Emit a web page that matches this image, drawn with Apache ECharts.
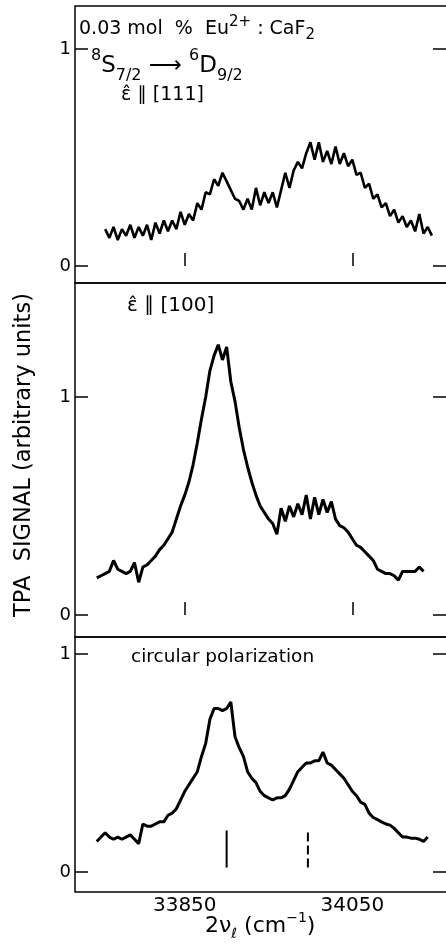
<!DOCTYPE html>
<html>
<head>
<meta charset="utf-8">
<script src="https://cdn.jsdelivr.net/npm/echarts@6/dist/echarts.min.js"></script>
<style>
  html, body { margin: 0; padding: 0; background: #fff; }
  #chart { width: 446px; height: 947px; }
</style>
</head>
<body>
<div id="chart"></div>
<script>
// wavenumber grid (2 nu_l, cm-1) shared by the three traces
const wavenumber = [33745,33750,33755,33760,33765,33770,33775,33780,33785,33790,
  33795,33800,33805,33810,33815,33820,33825,33830,33835,33840,
  33845,33850,33855,33860,33865,33870,33875,33880,33885,33890,
  33895,33900,33905,33910,33915,33920,33925,33930,33935,33940,
  33945,33950,33955,33960,33965,33970,33975,33980,33985,33990,
  33995,34000,34005,34010,34015,34020,34025,34030,34035,34040,
  34045,34050,34055,34060,34065,34070,34075,34080,34085,34090,
  34095,34100,34105,34110,34115,34120,34125,34130,34135,34140,
  34145,34150];

// e || [111]
const signal111 = [null,null,0.17,0.13,0.18,0.12,0.17,0.14,0.19,0.13,
  0.18,0.14,0.19,0.12,0.20,0.15,0.21,0.16,0.21,0.17,
  0.25,0.19,0.24,0.21,0.29,0.26,0.34,0.33,0.40,0.37,
  0.43,0.39,0.35,0.31,0.30,0.26,0.31,0.26,0.36,0.28,
  0.34,0.29,0.34,0.27,0.35,0.43,0.36,0.44,0.48,0.45,
  0.52,0.57,0.49,0.57,0.48,0.53,0.47,0.55,0.47,0.52,
  0.46,0.49,0.42,0.43,0.36,0.38,0.31,0.33,0.27,0.29,
  0.23,0.26,0.20,0.23,0.18,0.21,0.16,0.24,0.15,0.18,
  0.14,null];

// e || [100]
const signal100 = [0.17,0.18,0.19,0.20,0.25,0.21,0.20,0.19,0.20,0.24,
  0.15,0.22,0.23,0.25,0.27,0.30,0.32,0.35,0.38,0.44,
  0.50,0.55,0.61,0.69,0.79,0.90,1.00,1.12,1.19,1.24,
  1.17,1.23,1.07,0.98,0.86,0.76,0.68,0.61,0.55,0.50,
  0.47,0.44,0.42,0.37,0.49,0.43,0.50,0.45,0.51,0.46,
  0.55,0.44,0.54,0.46,0.53,0.47,0.52,0.44,0.41,0.40,
  0.38,0.35,0.32,0.31,0.29,0.27,0.25,0.21,0.20,0.19,
  0.19,0.18,0.16,0.20,0.20,0.20,0.20,0.22,0.20,null,
  null,null];

// circular polarization
const signalCirc = [0.14,0.16,0.18,0.16,0.15,0.16,0.15,0.16,0.17,0.15,
  0.13,0.22,0.21,0.21,0.22,0.23,0.23,0.26,0.27,0.29,
  0.33,0.37,0.40,0.43,0.46,0.53,0.59,0.70,0.75,0.75,
  0.74,0.75,0.78,0.62,0.57,0.53,0.46,0.43,0.41,0.37,
  0.35,0.34,0.33,0.34,0.34,0.35,0.38,0.42,0.46,0.48,
  0.50,0.50,0.51,0.51,0.55,0.50,0.49,0.47,0.45,0.43,
  0.40,0.37,0.35,0.32,0.31,0.27,0.25,0.24,0.23,0.22,
  0.215,0.20,0.18,0.16,0.16,0.155,0.155,0.15,0.14,0.16,
  null,null];

// calculated line positions marked under the circular trace
const solidMarker = [33900];
const dashedMarker = [33997];
const markerRange = [0.02, 0.19];

const xTicks = [33850, 34050];
const yTicks = [0, 1];

const font = 'DejaVu Sans';
const zip = (ys) => wavenumber.map((x, i) => [x, ys[i]]);

const myChart = echarts.init(document.getElementById('chart'));

// right border sits just past the window edge, as in the scan
const grids = [
  { left: 75, top: 6, width: 377, height: 277 },
  { left: 75, top: 283, width: 377, height: 354 },
  { left: 75, top: 637, width: 377, height: 255 }
];
const yRanges = [[-0.078, 1.198], [-0.101, 1.523], [-0.092, 1.078]];

const xAxes = grids.map((g, i) => ({
  type: 'value',
  gridIndex: i,
  min: 33719,
  max: 34169,
  axisLine: { show: false },
  splitLine: { show: false },
  axisTick: {
    show: i < 2,
    inside: true,
    length: 13,
    customValues: xTicks,
    lineStyle: { color: '#000', width: 1.5 }
  },
  axisLabel: {
    show: i === 2,
    customValues: xTicks,
    formatter: v => String(v),
    color: '#000',
    fontFamily: font,
    fontSize: 20,
    margin: 4
  }
}));

const yAxes = [];
grids.forEach((g, i) => {
  ['left', 'right'].forEach(pos => {
    yAxes.push({
      type: 'value',
      gridIndex: i,
      position: pos,
      min: yRanges[i][0],
      max: yRanges[i][1],
      axisLine: { show: false },
      splitLine: { show: false },
      axisTick: {
        show: true,
        inside: true,
        length: pos === 'left' ? 13 : 19,
        customValues: yTicks,
        lineStyle: { color: '#000', width: 1.5 }
      },
      axisLabel: {
        show: pos === 'left',
        customValues: yTicks,
        color: '#000',
        fontFamily: font,
        fontSize: 18,
        margin: 4
      }
    });
  });
});

myChart.setOption({
  animation: false,
  backgroundColor: '#fff',
  grid: grids.map(g => ({
    ...g,
    outerBoundsMode: 'none',
    containLabel: false,
    show: true,
    borderColor: '#000',
    borderWidth: 1.5,
    backgroundColor: 'transparent'
  })),
  xAxis: xAxes,
  yAxis: yAxes,
  series: [
    {
      type: 'line', xAxisIndex: 0, yAxisIndex: 0, showSymbol: false,
      lineStyle: { color: '#000', width: 2.6 }, data: zip(signal111)
    },
    {
      type: 'line', xAxisIndex: 1, yAxisIndex: 2, showSymbol: false,
      lineStyle: { color: '#000', width: 3 }, data: zip(signal100)
    },
    {
      type: 'line', xAxisIndex: 2, yAxisIndex: 4, showSymbol: false,
      lineStyle: { color: '#000', width: 3 }, data: zip(signalCirc)
    },
    {
      type: 'line', xAxisIndex: 2, yAxisIndex: 4, showSymbol: false,
      lineStyle: { color: '#000', width: 2 },
      data: markerRange.map(v => [solidMarker[0], v])
    },
    {
      type: 'line', xAxisIndex: 2, yAxisIndex: 4, showSymbol: false,
      lineStyle: { color: '#000', width: 2, type: [9, 4] },
      data: markerRange.map(v => [dashedMarker[0], v])
    }
  ],
  graphic: [
    {
      type: 'text', left: 79, top: 15,
      style: {
        text: '0.03 mol  %  Eu{sup|2+} : CaF{sub|2}',
        fontFamily: font, fontSize: 19, lineHeight: 28, fill: '#000',
        rich: {
          sup: { fontFamily: font, fontSize: 15, lineHeight: 12, verticalAlign: 'top' },
          sub: { fontFamily: font, fontSize: 15, lineHeight: 12, verticalAlign: 'bottom' }
        }
      }
    },
    {
      type: 'text', left: 91, top: 48,
      style: {
        text: '{sup|8}S{sub|7/2} \u27f6 {sup|6}D{sub|9/2}',
        fontFamily: font, fontSize: 23, lineHeight: 36, fill: '#000',
        rich: {
          sup: { fontFamily: font, fontSize: 16, lineHeight: 16, verticalAlign: 'top' },
          sub: { fontFamily: font, fontSize: 16, lineHeight: 16, verticalAlign: 'bottom' }
        }
      }
    },
    {
      type: 'text', left: 121, top: 86,
      style: { text: '\u03b5\u0302 \u2225 [111]', fontFamily: font, fontSize: 19, fill: '#000' }
    },
    {
      type: 'text', left: 127, top: 296,
      style: { text: '\u03b5\u0302 \u2225 [100]', fontFamily: font, fontSize: 20, fill: '#000' }
    },
    {
      type: 'text', left: 131, top: 648,
      style: { text: 'circular polarization', fontFamily: font, fontSize: 18.5, fill: '#000' }
    },
    {
      type: 'text', x: 24, y: 455, rotation: Math.PI / 2,
      style: {
        text: 'TPA  SIGNAL (arbitrary units)',
        fontFamily: font, fontSize: 22.5, fill: '#000',
        align: 'center', verticalAlign: 'middle'
      }
    },
    {
      type: 'text', left: 205, top: 911,
      style: {
        text: '2\u03bd{sub|\u2113} (cm{sup|\u22121})',
        fontFamily: font, fontSize: 22, lineHeight: 30, fill: '#000',
        rich: {
          sup: { fontFamily: font, fontSize: 14, lineHeight: 12, verticalAlign: 'top' },
          sub: { fontFamily: font, fontSize: 14, lineHeight: 12, verticalAlign: 'bottom' }
        }
      }
    }
  ]
});
</script>
</body>
</html>
